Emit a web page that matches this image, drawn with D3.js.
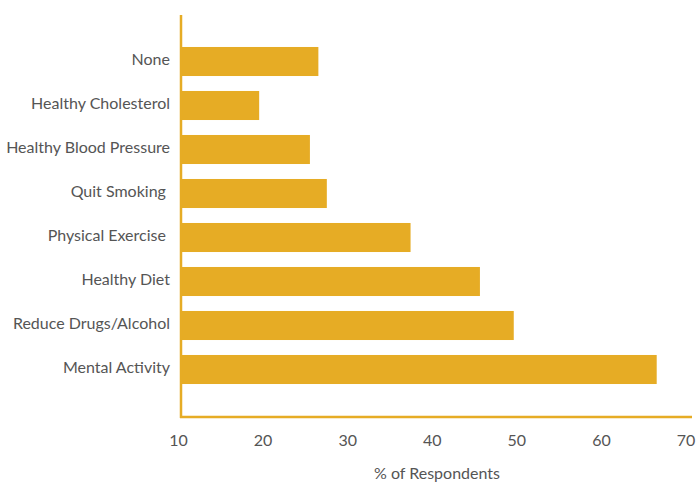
<!DOCTYPE html>
<html>
<head>
<meta charset="utf-8">
<script src="https://cdn.jsdelivr.net/npm/d3@7"></script>
<style>
html,body{margin:0;padding:0;background:#fff;}
svg text{font-family:Lato,"Open Sans",sans-serif;fill:#555;}
</style>
</head>
<body>
<svg id="chart" width="697" height="482"></svg>
<script>
const categories = ["None","Healthy Cholesterol","Healthy Blood Pressure","Quit Smoking ","Physical Exercise ","Healthy Diet","Reduce Drugs/Alcohol","Mental Activity"];
const values = [26.3, 19.3, 25.3, 27.3, 37.2, 45.4, 49.4, 66.3];
const xTicks = [10, 20, 30, 40, 50, 60, 70];
const xTitle = "% of Respondents";

const color = "#e6ac25";
const svg = d3.select("#chart");
const x = d3.scaleLinear().domain([10, 70]).range([180.5, 688]);
const y = d3.scaleBand().domain(categories).range([39.5, 391.5]).paddingInner(0.34).paddingOuter(0.17);

svg.selectAll("rect.bar").data(categories).enter().append("rect")
  .attr("class","bar")
  .attr("x", x(10))
  .attr("y", d => y(d))
  .attr("width", (d,i) => x(values[i]) - x(10))
  .attr("height", y.bandwidth())
  .attr("fill", color);

// axis lines
svg.append("line").attr("x1",181).attr("x2",181).attr("y1",15).attr("y2",418)
  .attr("stroke",color).attr("stroke-width",2.5);
svg.append("line").attr("x1",180).attr("x2",692).attr("y1",417).attr("y2",417)
  .attr("stroke",color).attr("stroke-width",2.5);

// category labels
svg.selectAll("text.cat").data(categories).enter().append("text")
  .attr("class","cat")
  .attr("x",170)
  .attr("y", d => y(d) + y.bandwidth()/2 - 2)
  .attr("dy","0.35em")
  .attr("text-anchor","end")
  .style("font-size","16px")
  .attr("xml:space","preserve")
  .text(d => d);

// x tick labels
svg.selectAll("text.tick").data(xTicks).enter().append("text")
  .attr("class","tick")
  .attr("x", d => x(d) - 2)
  .attr("y", 446)
  .attr("text-anchor","middle")
  .style("font-size","16px")
  .text(d => d);

svg.append("text")
  .attr("x",437).attr("y",479)
  .attr("text-anchor","middle")
  .style("font-size","16px")
  .text(xTitle);
</script>
</body>
</html>
